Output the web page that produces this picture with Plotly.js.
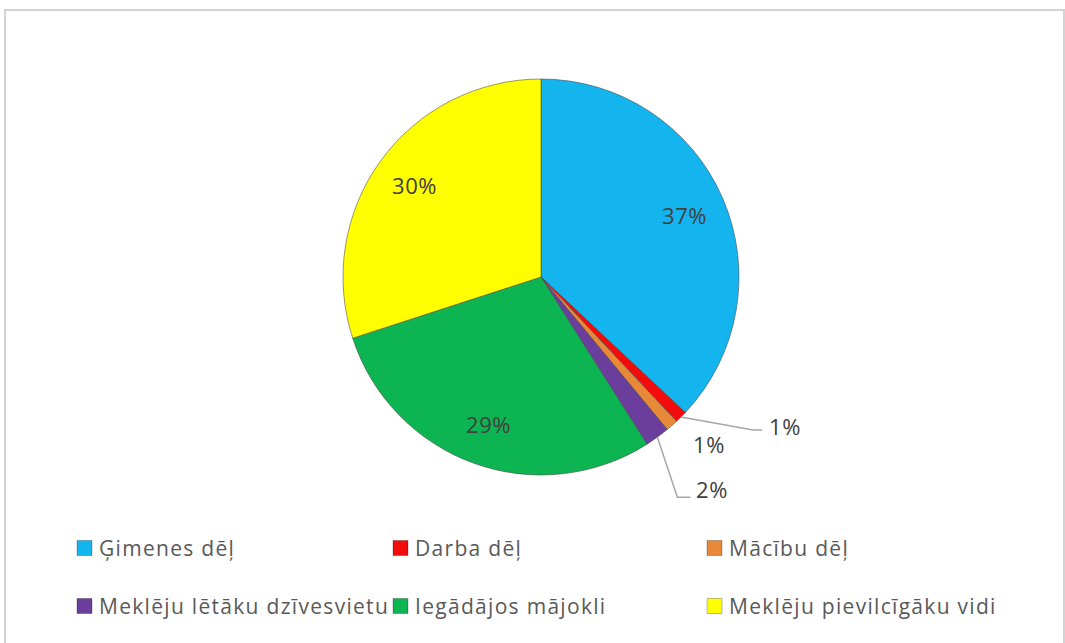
<!DOCTYPE html>
<html>
<head>
<meta charset="utf-8">
<script src="https://cdn.plot.ly/plotly-3.0.1.min.js"></script>
<style>
html,body{margin:0;padding:0;background:#fff;}
#chart{width:1065px;height:643px;}
</style>
</head>
<body>
<div id="chart"></div>
<script>
// Data
const labels = ["Ģimenes dēļ", "Darba dēļ", "Mācību dēļ", "Meklēju lētāku dzīvesvietu", "Iegādājos mājokli", "Meklēju pievilcīgāku vidi"];
const values = [37, 1, 1, 2, 29, 30];
const colors = ["#14b4ef", "#f20c0c", "#e8893a", "#6b3e9e", "#0db552", "#ffff00"];

const W = 1065, H = 643;
const cx = 541, cy = 277, R = 198;
const px = x => x / W;
const py = y => 1 - y / H;

const total = values.reduce((a, b) => a + b, 0);
const mids = [];
let acc = 0;
values.forEach(v => { mids.push((acc + v / 2) / total * 2 * Math.PI); acc += v; });
const pt = (ang, r) => [cx + r * Math.sin(ang), cy - r * Math.cos(ang)];

const annotations = [];
const shapes = [];

// Chart border
shapes.push({type: "rect", xref: "paper", yref: "paper", x0: px(5), x1: px(1064), y0: py(660), y1: py(10),
  line: {color: "#d4d4d4", width: 2}, fillcolor: "rgba(0,0,0,0)", layer: "below"});

const labelFont = {family: "Open Sans, sans-serif", size: 22, color: "#404040"};
const sp = t => `<span style="letter-spacing:0.6px">${t}</span>`;
// Inside labels for large slices
values.forEach((v, i) => {
  if (v >= 10) {
    const [x, y] = pt(mids[i], 0.79 * R);
    annotations.push({xref: "paper", yref: "paper", x: px(x), y: py(y), text: sp(v + "%"), showarrow: false,
      font: labelFont, xanchor: "center", yanchor: "middle"});
  }
});
// small slice labels (offsets relative to slice edge point)
const smallLabel = {
  1: {elbow: [72, 13], end: [81, 13], text: [86, 9]},
  2: {elbow: null, text: [19, 18]},
  3: {elbow: [20, 60], end: [33, 60], text: [37, 52]}
};
Object.keys(smallLabel).forEach(k => {
  const i = +k, s = smallLabel[k];
  const [ex, ey] = pt(mids[i], R);
  if (s.elbow) {
    shapes.push({type: "path", xref: "paper", yref: "paper",
      path: `M ${px(ex)} ${py(ey)} L ${px(ex + s.elbow[0])} ${py(ey + s.elbow[1])} L ${px(ex + s.end[0])} ${py(ey + s.end[1])}`,
      line: {color: "#a6a6a6", width: 1.5}});
  }
  annotations.push({xref: "paper", yref: "paper", x: px(ex + s.text[0]), y: py(ey + s.text[1]),
    text: sp(values[i] + "%"), showarrow: false, font: labelFont, xanchor: "left", yanchor: "middle"});
});

// Custom legend (3 columns x 2 rows)
const legCols = [77, 393, 707];
const legRows = [548, 606];
const legFont = {family: "Open Sans, sans-serif", size: 21, color: "#595959"};
labels.forEach((lab, i) => {
  const x = legCols[i % 3], y = legRows[Math.floor(i / 3)];
  shapes.push({type: "rect", xref: "paper", yref: "paper", x0: px(x), x1: px(x + 15), y0: py(y + 7.5), y1: py(y - 7.5),
    fillcolor: colors[i], line: {color: "rgba(0,0,0,0.25)", width: 1}});
  annotations.push({xref: "paper", yref: "paper", x: px(x + 20), y: py(y), text: `<span style="letter-spacing:1.3px">${lab}</span>`, showarrow: false,
    font: legFont, xanchor: "left", yanchor: "middle"});
});

const trace = {
  type: "pie",
  labels: labels,
  values: values,
  sort: false,
  direction: "clockwise",
  rotation: 0,
  textinfo: "none",
  hoverinfo: "label+percent",
  marker: {colors: colors, line: {color: "rgba(70,70,70,0.55)", width: 1}},
  domain: {x: [px(cx - R), px(cx + R)], y: [py(cy + R), py(cy - R)]},
  showlegend: false
};

const layout = {
  width: W, height: H,
  margin: {l: 0, r: 0, t: 0, b: 0},
  paper_bgcolor: "#ffffff",
  showlegend: false,
  shapes: shapes,
  annotations: annotations
};

Plotly.newPlot("chart", [trace], layout, {displayModeBar: false, staticPlot: true});
</script>
</body>
</html>
